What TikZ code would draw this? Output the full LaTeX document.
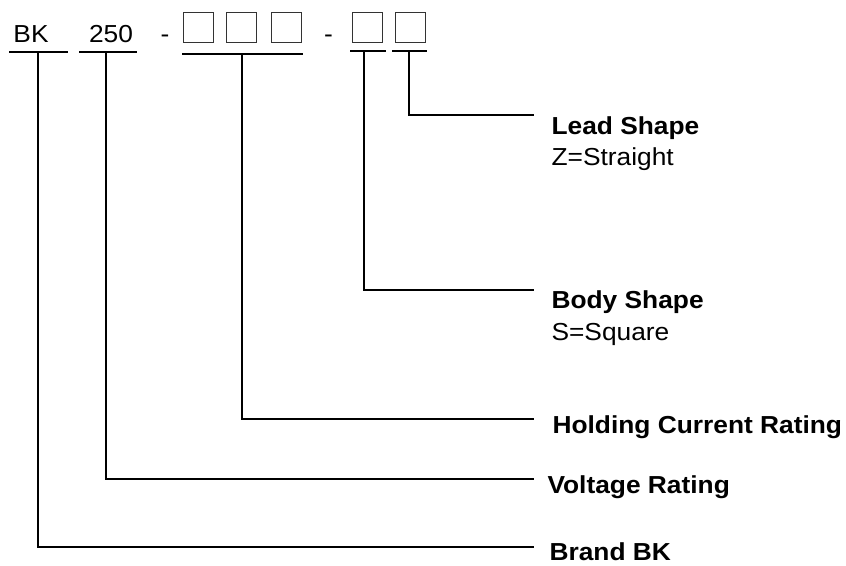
\documentclass[tikz,border=0pt]{standalone}
\usepackage{fontspec}
\setmainfont{Liberation Sans}[FakeStretch=1.07]
\usepackage{tikz}
\usetikzlibrary{positioning}

\begin{document}
\begin{tikzpicture}[x=0.5pt, y=-0.5pt, line width=0.55pt]
	\tikzstyle{code} = [inner sep=0, anchor=base, font=\fontsize{12.3}{15}\selectfont]
	\tikzstyle{digit} = [rectangle, draw=black!80, line width=0.5pt, inner sep=0, minimum size=15pt]
	\tikzstyle{title} = [inner sep=0, anchor=base west, font=\fontsize{12.3}{15}\selectfont\bfseries]
	\tikzstyle{sub} = [inner sep=0, anchor=base west, font=\fontsize{12.3}{15}\selectfont]
	\tikzstyle{bar} = [draw=black]
	\useasboundingbox (0,0) rectangle (846,566);
	% Place nodes
	\node [code] (bk) at (31,43) {BK};
	\node [code] (volt) at (111,43) {250};
	\node [code] (dashA) at (165,43) {-};
	\node [digit] (hold1) at (198,28) {};
	\node [digit] (hold2) at (241.5,28) {};
	\node [digit] (hold3) at (286,28) {};
	\node [code] (dashB) at (328.5,43) {-};
	\node [digit] (body) at (367,28) {};
	\node [digit] (lead) at (410.5,28) {};
	\node [title] (leadname) at (551,135) {Lead Shape};
	\node [sub] (leadval) at (551,166) {Z=Straight};
	\node [title] (bodyname) at (551,309) {Body Shape};
	\node [sub] (bodyval) at (551,341) {S=Square};
	\node [title] (holdname) at (552,434) {Holding Current Rating};
	\node [title] (voltname) at (547,494) {Voltage Rating};
	\node [title] (brandname) at (549,560) {Brand BK};
	% Underlines
	\coordinate (bkbar) at (38,52);
	\coordinate (voltbar) at (106,52);
	\coordinate (holdbar) at (242,54);
	\coordinate (bodybar) at (364,51);
	\coordinate (leadbar) at (409,51);
	\path [bar] (9,52) -- (68,52);
	\path [bar] (79,52) -- (137,52);
	\path [bar] (182,54) -- (303,54);
	\path [bar] (350,51) -- (386,51);
	\path [bar] (392,51) -- (427,51);
	% Line ends
	\coordinate (leadend) at (534,115);
	\coordinate (bodyend) at (534,290);
	\coordinate (holdend) at (534,419);
	\coordinate (voltend) at (534,479);
	\coordinate (brandend) at (534,547);
	% Draw edges
	\path [bar] (leadbar) |- (leadend);
	\path [bar] (bodybar) |- (bodyend);
	\path [bar] (holdbar) |- (holdend);
	\path [bar] (voltbar) |- (voltend);
	\path [bar] (bkbar) |- (brandend);
\end{tikzpicture}
\end{document}
